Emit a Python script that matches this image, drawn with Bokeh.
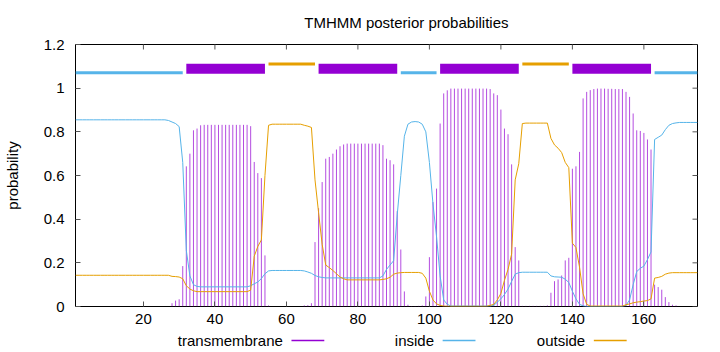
import math
from bokeh.plotting import figure
from bokeh.layouts import column
from bokeh.models import FixedTicker, Range1d, ColumnDataSource, CustomJSTickFormatter
from bokeh.core.properties import value
from bokeh.embed import file_html
from bokeh.resources import INLINE

# ---------------- data ----------------
residue = list(range(1, 176))

transmembrane = [
    0, 0, 0, 0, 0, 0, 0, 0, 0, 0,
    0, 0, 0, 0, 0, 0, 0, 0, 0, 0,
    0, 0, 0, 0, 0, 0, 0, 0.015, 0.027, 0.033,
    0.185, 0.642, 0.700, 0.807, 0.815, 0.830, 0.832, 0.832, 0.832, 0.832,
    0.832, 0.832, 0.832, 0.832, 0.832, 0.832, 0.832, 0.832, 0.832, 0.826,
    0.662, 0.611, 0.588, 0.234, 0.005, 0, 0, 0, 0, 0,
    0, 0, 0, 0, 0.005, 0.006, 0.015, 0.295, 0.450, 0.570,
    0.677, 0.685, 0.700, 0.719, 0.734, 0.742, 0.746, 0.746, 0.746, 0.746,
    0.746, 0.746, 0.746, 0.746, 0.746, 0.746, 0.739, 0.677, 0.670, 0.651,
    0.437, 0.261, 0.069, 0.008, 0.002, 0.002, 0.003, 0.005, 0.046, 0.226,
    0.478, 0.540, 0.838, 0.976, 0.990, 0.998, 0.998, 0.998, 0.998, 0.998,
    0.998, 0.998, 0.998, 0.998, 0.998, 0.998, 0.996, 0.976, 0.968, 0.902,
    0.815, 0.789, 0.651, 0.272, 0.211, 0.003, 0.003, 0.003, 0.003, 0.003,
    0.003, 0.003, 0.005, 0.063, 0.116, 0.124, 0.142, 0.211, 0.223, 0.631,
    0.642, 0.708, 0.953, 0.983, 0.991, 0.996, 0.998, 0.998, 0.998, 0.997,
    0.997, 0.996, 0.996, 0.996, 0.983, 0.960, 0.884, 0.807, 0.804, 0.795,
    0.765, 0.719, 0.100, 0.089, 0.077, 0.043, 0.020, 0.008, 0.005, 0,
    0, 0, 0, 0, 0,
]

inside = [
    0.855, 0.855, 0.855, 0.855, 0.855, 0.855, 0.855, 0.855, 0.855, 0.855,
    0.855, 0.855, 0.855, 0.855, 0.855, 0.855, 0.855, 0.855, 0.855, 0.855,
    0.855, 0.855, 0.855, 0.855, 0.855, 0.855, 0.852, 0.845, 0.838, 0.824,
    0.660, 0.257, 0.140, 0.100, 0.092, 0.090, 0.090, 0.090, 0.090, 0.090,
    0.090, 0.090, 0.090, 0.090, 0.090, 0.090, 0.090, 0.090, 0.090, 0.095,
    0.104, 0.112, 0.128, 0.150, 0.163, 0.165, 0.165, 0.165, 0.165, 0.165,
    0.165, 0.165, 0.165, 0.165, 0.163, 0.158, 0.152, 0.142, 0.136, 0.133,
    0.131, 0.131, 0.131, 0.131, 0.131, 0.131, 0.131, 0.131, 0.131, 0.131,
    0.131, 0.131, 0.131, 0.131, 0.131, 0.131, 0.140, 0.170, 0.190, 0.210,
    0.420, 0.600, 0.780, 0.835, 0.845, 0.847, 0.845, 0.835, 0.800, 0.660,
    0.470, 0.320, 0.140, 0.030, 0.010, 0.002, 0.002, 0.002, 0.002, 0.002,
    0.002, 0.002, 0.002, 0.002, 0.002, 0.002, 0.002, 0.005, 0.020, 0.035,
    0.055, 0.080, 0.115, 0.148, 0.155, 0.157, 0.157, 0.157, 0.157, 0.157,
    0.157, 0.157, 0.157, 0.140, 0.136, 0.135, 0.134, 0.125, 0.110, 0.070,
    0.035, 0.010, 0.003, 0, 0, 0, 0, 0, 0, 0,
    0, 0, 0, 0, 0.005, 0.030, 0.100, 0.160, 0.175, 0.185,
    0.215, 0.250, 0.765, 0.775, 0.785, 0.810, 0.830, 0.838, 0.841, 0.843,
    0.843, 0.843, 0.843, 0.843, 0.843,
]

outside = [
    0.143, 0.143, 0.143, 0.143, 0.143, 0.143, 0.143, 0.143, 0.143, 0.143,
    0.143, 0.143, 0.143, 0.143, 0.143, 0.143, 0.143, 0.143, 0.143, 0.143,
    0.143, 0.143, 0.143, 0.143, 0.143, 0.143, 0.143, 0.138, 0.137, 0.135,
    0.127, 0.095, 0.080, 0.072, 0.068, 0.068, 0.068, 0.068, 0.068, 0.068,
    0.068, 0.068, 0.068, 0.068, 0.068, 0.068, 0.068, 0.068, 0.068, 0.075,
    0.230, 0.275, 0.305, 0.600, 0.830, 0.835, 0.835, 0.835, 0.835, 0.835,
    0.835, 0.835, 0.835, 0.835, 0.830, 0.826, 0.820, 0.580, 0.430, 0.285,
    0.190, 0.178, 0.165, 0.150, 0.135, 0.127, 0.122, 0.122, 0.122, 0.122,
    0.122, 0.122, 0.122, 0.122, 0.122, 0.122, 0.124, 0.127, 0.134, 0.148,
    0.153, 0.155, 0.156, 0.156, 0.156, 0.156, 0.156, 0.152, 0.130, 0.070,
    0.030, 0.012, 0.005, 0.002, 0.001, 0.001, 0.001, 0.001, 0.001, 0.001,
    0.001, 0.001, 0.001, 0.001, 0.001, 0.001, 0.005, 0.010, 0.030, 0.060,
    0.120, 0.170, 0.240, 0.580, 0.654, 0.838, 0.840, 0.840, 0.840, 0.840,
    0.840, 0.840, 0.840, 0.770, 0.740, 0.725, 0.705, 0.660, 0.636, 0.290,
    0.270, 0.180, 0.058, 0.010, 0.002, 0.002, 0.002, 0.002, 0.002, 0.002,
    0.002, 0.002, 0.002, 0.002, 0.008, 0.012, 0.017, 0.020, 0.022, 0.025,
    0.027, 0.035, 0.130, 0.133, 0.138, 0.148, 0.153, 0.155, 0.155, 0.155,
    0.155, 0.155, 0.155, 0.155, 0.155,
]

# predicted topology segments (start, end residue)
inside_seg_start = [1, 92, 163]
inside_seg_end = [31, 102, 175]
tm_seg_start = [32, 69, 103, 140]
tm_seg_end = [54, 91, 125, 162]
outside_seg_start = [55, 126]
outside_seg_end = [68, 139]

x_ticks = [20, 40, 60, 80, 100, 120, 140, 160]
y_ticks = [0, 0.2, 0.4, 0.6, 0.8, 1.0, 1.2]

title_text = "TMHMM posterior probabilities"
legend_names = ["transmembrane", "inside", "outside"]

# ---------------- style ----------------
TM_COLOR = "#9400D3"
IN_COLOR = "#56B4E9"
OUT_COLOR = "#E69F00"
FONT = "Liberation Sans"
FS = "15px"
X_MIN, X_MAX = 1, 175
Y_MIN, Y_MAX = 0, 1.2
W = 720


def strip(height):
    f = figure(width=W, height=height, output_backend="svg", toolbar_location=None,
               x_range=Range1d(0, W), y_range=Range1d(0, height),
               min_border=0, outline_line_color=None)
    f.axis.visible = False
    f.grid.visible = False
    return f


# ---------------- title strip ----------------
tf = strip(34)
tf.text(x=[383], y=[12.5], text=[title_text], text_align="center",
        text_baseline="middle", text_font=value(FONT), text_font_size=value(FS),
        text_color="black")

# ---------------- main plot ----------------
p = figure(width=W, height=296, output_backend="svg", toolbar_location=None,
           x_range=Range1d(X_MIN, X_MAX), y_range=Range1d(Y_MIN, Y_MAX),
           min_border_left=75, min_border_right=23,
           min_border_top=10, min_border_bottom=24)

p.grid.visible = False
p.outline_line_color = "black"
p.outline_line_width = 1
p.background_fill_color = "white"
p.border_fill_color = "white"

fmt = CustomJSTickFormatter(code="return String(Math.round(tick*10)/10);")

for ax in p.xaxis:
    ax.ticker = FixedTicker(ticks=x_ticks)
    ax.major_label_standoff = 7
for ax in p.yaxis:
    ax.ticker = FixedTicker(ticks=y_ticks)
    ax.formatter = fmt
    ax.major_label_standoff = 11
    ax.axis_label = "probability"
    ax.axis_label_text_font = FONT
    ax.axis_label_text_font_size = FS
    ax.axis_label_text_font_style = "normal"
    ax.axis_label_text_color = "black"
    ax.axis_label_standoff = 20

for ax in list(p.xaxis) + list(p.yaxis):
    ax.axis_line_color = None
    ax.major_tick_in = 5
    ax.major_tick_out = 0
    ax.major_tick_line_color = "#555555"
    ax.minor_tick_line_color = None
    ax.major_label_text_font = FONT
    ax.major_label_text_font_size = FS
    ax.major_label_text_color = "black"

# mirrored tick marks on the top and right borders (outer half of each dash is clipped)
p.scatter(x=x_ticks, y=[Y_MAX] * len(x_ticks), marker="dash", angle=math.pi / 2,
          size=10, line_color="#555555", line_width=1)
p.scatter(x=[X_MAX] * len(y_ticks), y=y_ticks, marker="dash",
          size=10, line_color="#555555", line_width=1)

src = ColumnDataSource(dict(r=residue, tm=transmembrane, ins=inside, out=outside))

p.segment(x0="r", y0=0, x1="r", y1="tm", source=src,
          line_color=TM_COLOR, line_width=1, line_alpha=0.7)
p.line("r", "ins", source=src, line_color=IN_COLOR, line_width=1)
p.line("r", "out", source=src, line_color=OUT_COLOR, line_width=1)

# topology bar at the top
p.segment(x0=inside_seg_start, y0=1.071, x1=inside_seg_end, y1=1.071,
          line_color=IN_COLOR, line_width=3)
p.segment(x0=outside_seg_start, y0=1.111, x1=outside_seg_end, y1=1.111,
          line_color=OUT_COLOR, line_width=3)
p.quad(left=tm_seg_start, right=tm_seg_end, bottom=1.066, top=1.112,
       fill_color=TM_COLOR, line_color=None)

# ---------------- legend strip (gnuplot style: label, then line sample) ----------------
lg = strip(22)
legend_text_right = [240, 415, 590]
legend_colors = [TM_COLOR, IN_COLOR, OUT_COLOR]
LEG_Y = 12
lg.text(x=legend_text_right, y=[LEG_Y] * 3, text=legend_names,
        text_align="right", text_baseline="middle",
        text_font=value(FONT), text_font_size=value(FS), text_color="black")
for xr, col in zip(legend_text_right, legend_colors):
    lg.segment(x0=[xr + 10], y0=[LEG_Y], x1=[xr + 48], y1=[LEG_Y],
               line_color=col, line_width=1.5)

layout = column(tf, p, lg, spacing=0)
open("out.html", "w").write(file_html(layout, INLINE))
